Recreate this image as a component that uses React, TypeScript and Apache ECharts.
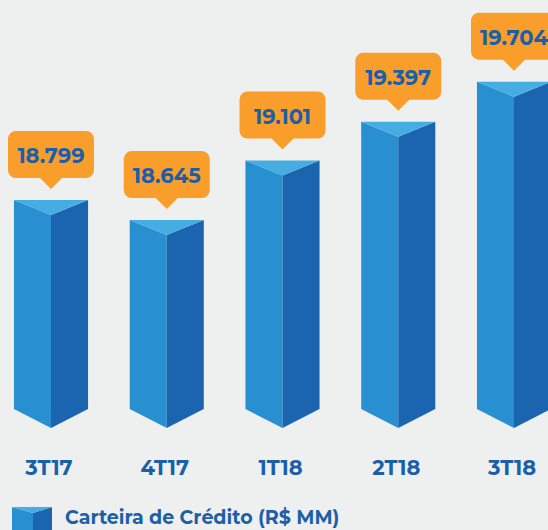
import React, { useEffect, useRef } from "react";
import * as echarts from "echarts";

const categories = ["3T17", "4T17", "1T18", "2T18", "3T18"];
const values = [18.799, 18.645, 19.101, 19.397, 19.704];
const valueLabels = ["18.799", "18.645", "19.101", "19.397", "19.704"];
const seriesName = "Carteira de Crédito (R$ MM)";

const AXIS_MIN = 17.2;
const AXIS_MAX = 20;
const X_MIN = -0.4406;
const X_MAX = 4.2937;

const C_LEFT = "#2890d1";
const C_RIGHT = "#1b65b0";
const C_TOP = "#45ade2";
const C_ORANGE = "#f99d2b";
const C_TEXT = "#1b5fa9";
const BG = "#eef0f0";
const FONT = "Montserrat, 'Open Sans', 'Noto Sans', sans-serif";

export default function App() {
  const ref = useRef<HTMLDivElement>(null);
  useEffect(() => {
    document.body.style.margin = "0";
    const chart = echarts.init(ref.current!, null, { renderer: "svg" });
    chart.setOption({
      animation: false,
      backgroundColor: BG,
      grid: { left: 0, right: 0, top: 43, bottom: 121 },
      xAxis: {
        type: "value",
        min: X_MIN,
        max: X_MAX,
        show: false,
        splitLine: { show: false },
      },
      yAxis: {
        type: "value",
        min: AXIS_MIN,
        max: AXIS_MAX,
        show: false,
        splitLine: { show: false },
      },
      series: [
        {
          type: "custom",
          name: seriesName,
          data: values.map((v, i) => [i, v]),
          clip: false,
          renderItem: (params: any, api: any) => {
            const i = api.value(0);
            const v = api.value(1);
            const top = api.coord([i, v]);
            const base = api.coord([i, AXIS_MIN]);
            const band = api.size([1, 0])[0];
            const hw = band * 0.32;
            const cx = top[0];
            const yT = top[1];
            const yB = base[1];
            const dipT = 15;
            const dipB = 19;
            const L = cx - hw;
            const R = cx + hw;
            const bw = 86;
            const bh = 47;
            const tipY = yT - 11;
            const rectBottom = tipY - 11;
            const rectTop = rectBottom - bh;
            return {
              type: "group",
              children: [
                {
                  type: "polygon",
                  shape: { points: [[L, yT], [cx, yT + dipT], [cx, yB + dipB], [L, yB]] },
                  style: { fill: C_LEFT },
                },
                {
                  type: "polygon",
                  shape: { points: [[R, yT], [cx, yT + dipT], [cx, yB + dipB], [R, yB]] },
                  style: { fill: C_RIGHT },
                },
                {
                  type: "polygon",
                  shape: { points: [[L, yT], [R, yT], [cx, yT + dipT]] },
                  style: { fill: C_TOP },
                },
                {
                  type: "rect",
                  shape: { x: cx - bw / 2, y: rectTop, width: bw, height: bh, r: 8 },
                  style: { fill: C_ORANGE },
                },
                {
                  type: "polygon",
                  shape: { points: [[cx - 12, rectBottom - 1], [cx + 12, rectBottom - 1], [cx, tipY]] },
                  style: { fill: C_ORANGE },
                },
                {
                  type: "text",
                  style: {
                    text: valueLabels[params.dataIndex],
                    x: cx,
                    y: rectTop + bh / 2 + 1,
                    align: "center",
                    verticalAlign: "middle",
                    fill: C_TEXT,
                    font: `bold 21px ${FONT}`,
                  },
                },
                {
                  type: "text",
                  style: {
                    text: categories[params.dataIndex],
                    x: cx - 2,
                    y: yB + 58,
                    align: "center",
                    verticalAlign: "middle",
                    fill: C_TEXT,
                    font: `bold 21px ${FONT}`,
                  },
                },
              ],
            };
          },
        },
      ],
      graphic: [
        { type: "polygon", shape: { points: [[12, 507], [33, 513], [33, 535], [12, 535]] }, style: { fill: C_LEFT } },
        { type: "polygon", shape: { points: [[52, 507], [33, 513], [33, 535], [52, 535]] }, style: { fill: C_RIGHT } },
        { type: "polygon", shape: { points: [[12, 507], [52, 507], [33, 513]] }, style: { fill: C_TOP } },
        {
          type: "text",
          left: 65,
          top: 508,
          style: {
            text: seriesName,
            fill: C_TEXT,
            font: `bold 19px ${FONT}`,
          },
        },
      ],
    });
    return () => chart.dispose();
  }, []);
  return <div ref={ref} style={{ width: 548, height: 530, background: BG }} />;
}
